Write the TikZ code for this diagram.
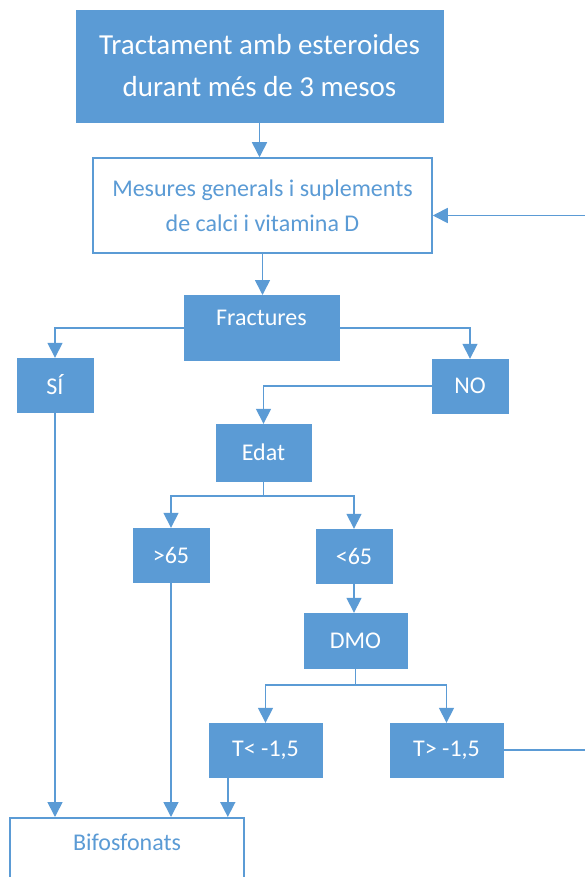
\documentclass[tikz,border=0pt]{standalone}
\usepackage{fontspec}
\setmainfont{Carlito}
\usepackage{tikz}
\usetikzlibrary{arrows.meta,calc}
\definecolor{ofblue}{RGB}{91,155,213}

\tikzset{
  bluebox/.style={fill=ofblue, draw=ofblue, text=white, inner sep=0pt,
                  font=\fontsize{24}{28}\selectfont},
  whitebox/.style={fill=white, draw=ofblue, line width=1.5pt, text=ofblue, inner sep=0pt,
                   font=\fontsize{24}{35}\selectfont}
}

\begin{document}
\begin{tikzpicture}[x=1pt,y=-1pt]
\useasboundingbox (0,0) rectangle (585,877);
\clip (0,0) rectangle (585,877);

\begin{scope}[every node/.style=bluebox]
    \node[minimum width=367pt, minimum height=112pt, align=center,
          font=\fontsize{29}{42}\selectfont] (trat) at (259.5,66)
          {Tractament amb esteroides\\durant més de 3 mesos};
    \node[anchor=north, minimum width=155pt, text height=30.5pt, text depth=34.5pt] (fract) at (261.5,295) {Fractures};
    \node[minimum width=76pt, minimum height=54pt] (si) at (55,385) {SÍ};
    \node[minimum width=76pt, minimum height=54pt] (no) at (470,386) {NO};
    \node[minimum width=95pt, minimum height=57pt] (edat) at (263.5,452.5) {Edat};
    \node[minimum width=76pt, minimum height=54pt] (mes65) at (171,555) {>65};
    \node[minimum width=76pt, minimum height=54pt] (men65) at (354,556) {<65};
    \node[minimum width=103pt, minimum height=55pt] (dmo) at (355.5,640.5) {DMO};
    \node[minimum width=113pt, minimum height=54pt] (tmen) at (265.5,750) {T< -1,5};
    \node[minimum width=113pt, minimum height=54pt] (tmes) at (446.5,750) {T> -1,5};
\end{scope}

\begin{scope}[every node/.style=whitebox]
    \node[minimum width=339pt, minimum height=95pt, align=center] (mesures) at (262.5,205.5)
          {Mesures generals i suplements\\de calci i vitamina D};
    \node[anchor=north, minimum width=234pt, text height=33pt, text depth=60pt] (bif) at (127,817) {Bifosfonats};
\end{scope}

\coordinate (tdown) at ($(tmen.south west)+(19,0)$);
\coordinate (back) at ($(mesures.east)+(0,10)$);

\begin{scope}[>={Triangle[width=15pt,length=15pt]}, draw=ofblue, line width=1.6pt]
    \draw[->] (trat.south) -- (trat.south |- mesures.north);
    \draw[->] (mesures.south) -- (mesures.south |- fract.north);
    \draw[->] (fract.west) -| (si.north);
    \draw[->] (fract.east) -| (no.north);
    \draw[->] (no.west) -| (edat.north);
    \draw (edat.south) -- ++(0,15) coordinate (fkE);
    \draw[->] (fkE) -| (mes65.north);
    \draw[->] (fkE) -| (men65.north);
    \draw[->] (si.south) -- (si.south |- bif.north);
    \draw[->] (mes65.south) -- (mes65.south |- bif.north);
    \draw[->] (men65.south) -- (men65.south |- dmo.north);
    \draw (dmo.south) -- ++(0,17) coordinate (fkD);
    \draw[->] (fkD) -| (tmen.north);
    \draw[->] (fkD) -| (tmes.north);
    \draw[->] (tdown) -- (tdown |- bif.north);
    \draw[->] (tmes.east) -- ++(120,0) |- (back);
\end{scope}
\end{tikzpicture}
\end{document}
